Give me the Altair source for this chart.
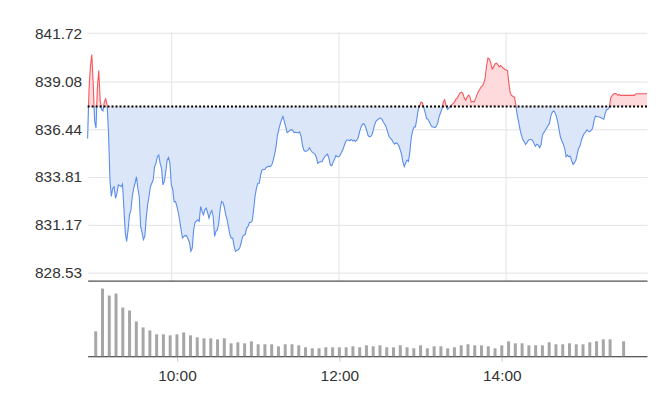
import altair as alt
import pandas as pd

# one reading per minute, starting 09:00
prices = [
    835.92, 838.60, 839.90, 840.55, 838.93, 836.90, 836.50, 838.75, 839.66, 838.02,
    837.51, 837.44, 837.95, 838.10, 837.75, 836.20, 833.64, 832.73, 833.18, 833.27,
    832.63, 832.91, 833.37, 833.33, 833.27, 833.42, 832.09, 830.71, 830.26, 830.90,
    831.72, 831.96, 832.73, 833.18, 833.46, 833.82, 833.18, 832.73, 831.08, 830.75,
    830.35, 830.53, 831.54, 832.27, 832.73, 833.27, 833.46, 833.64, 834.37, 834.55,
    834.92, 835.01, 834.55, 834.28, 833.37, 833.55, 834.09, 834.73, 834.88, 834.55,
    833.37, 833.13, 832.45, 832.45, 832.18, 831.85, 831.41, 830.90, 830.44, 830.53,
    830.59, 830.57, 830.39, 830.20, 829.71, 829.89, 830.90, 831.30, 831.37, 831.45,
    831.37, 832.18, 831.90, 831.72, 831.99, 832.09, 831.85, 831.54, 831.81, 831.96,
    831.63, 830.53, 830.81, 830.90, 831.26, 832.03, 832.45, 832.41, 832.14, 831.72,
    831.45, 831.04, 830.62, 830.44, 830.44, 829.98, 829.71, 829.77, 829.80, 829.89,
    830.17, 830.50, 830.61, 830.64, 830.99, 831.08, 831.30, 831.30, 831.39, 831.99,
    832.73, 833.18, 833.46, 833.46, 833.91, 834.19, 834.22, 834.22, 834.33, 834.37,
    834.40, 834.37, 834.46, 834.70, 835.03, 835.43, 836.05, 836.41, 836.70, 836.96,
    837.14, 836.87, 836.56, 836.25, 836.29, 836.38, 836.41, 836.38, 836.25, 836.27,
    836.25, 836.23, 836.29, 836.05, 835.56, 835.28, 835.21, 835.23, 835.28, 835.41,
    835.28, 835.17, 835.12, 835.06, 834.88, 834.55, 834.62, 834.64, 834.64, 834.80,
    834.92, 835.01, 835.06, 834.82, 834.46, 834.42, 834.61, 834.79, 834.99, 834.92,
    834.92, 835.01, 835.15, 835.32, 835.54, 835.76, 835.85, 835.83, 835.81, 835.87,
    835.79, 835.83, 835.76, 835.83, 835.98, 836.30, 836.56, 836.71, 836.74, 836.60,
    836.38, 836.09, 836.01, 836.05, 836.16, 836.45, 836.74, 836.91, 836.96, 837.02,
    837.05, 836.98, 836.82, 836.71, 836.56, 836.30, 836.05, 835.94, 835.87, 835.72,
    835.61, 835.68, 835.65, 835.54, 835.32, 835.06, 834.64, 834.37, 834.59, 834.73,
    834.66, 835.19, 835.98, 836.34, 836.56, 836.56, 837.02, 837.51, 837.73, 837.93,
    837.88, 837.62, 837.33, 837.02, 836.98, 836.83, 836.67, 836.56, 836.56, 836.52,
    836.60, 836.78, 837.14, 837.33, 837.55, 837.93, 838.06, 837.69, 837.53, 837.60,
    837.69, 837.78, 837.86, 837.93, 838.09, 838.15, 838.31, 838.44, 838.48, 838.40,
    838.15, 838.04, 838.20, 838.31, 838.24, 837.93, 837.97, 837.93, 838.09, 838.31,
    838.50, 838.62, 838.75, 838.82, 838.97, 839.26, 839.94, 840.36, 840.30, 840.07,
    839.74, 839.85, 840.03, 840.07, 840.01, 839.87, 839.94, 839.88, 839.79, 839.74,
    839.70, 839.66, 838.93, 838.42, 838.29, 838.24, 838.20, 837.75, 837.20, 836.83,
    836.41, 836.10, 835.85, 835.74, 835.59, 835.70, 835.83, 835.87, 835.87, 835.81,
    835.65, 835.50, 835.61, 835.56, 835.41, 835.56, 836.10, 836.25, 836.36, 836.49,
    836.63, 836.74, 837.14, 837.36, 837.45, 837.36, 837.14, 836.83, 836.38, 835.98,
    835.79, 835.61, 835.37, 834.92, 835.01, 834.92, 834.95, 834.70, 834.50, 834.59,
    834.73, 835.06, 835.39, 835.52, 835.83, 836.05, 836.20, 836.29, 836.40, 836.32,
    836.30, 836.38, 836.49, 836.89, 837.16, 837.12, 837.12, 837.11, 837.07, 837.02,
    836.98, 837.29, 837.51, 837.53, 837.66, 838.17, 838.28, 838.37, 838.40, 838.39,
    838.30, 838.35, 838.30, 838.30, 838.30, 838.30, 838.30, 838.30, 838.30, 838.30,
    838.30, 838.30, 838.30, 838.39, 838.39, 838.39, 838.39, 838.39, 838.39, 838.39,
    838.39, 838.39,
]
base_price = 837.68
price_ticks = [828.53, 831.17, 833.81, 836.44, 839.08, 841.72]
time_tick_labels = ["10:00", "12:00", "14:00"]

# volume per 5-minute slot from 09:00 to 15:30 (None = no trading in that slot)
volumes = [
    25, 68, 61, 63, 49, 46, 35, 29, 26, 22,
    22, 21, 22, 24, 21, 19, 18, 18, 17, 18,
    13, 14, 13, 15, 12, 12, 12, 10, 12, 12,
    11, 9, 8, 8, 9, 9, 9, 9, 10, 9,
    11, 10, 11, 9, 9, 11, 9, 8, 11, 8,
    10, 10, 8, 9, 11, 12, 11, 11, 10, 8,
    11, 15, 13, 13, 11, 11, 11, 14, 12, 12,
    13, 12, 12, 14, 15, 17, 17, None, 15,
]


def to_minutes(hhmm):
    h, m = hhmm.split(":")
    return int(h) * 60 + int(m) - 9 * 60


price_df = pd.DataFrame({
    "minute": list(range(len(prices))),
    "price": prices,
    "base": [base_price] * len(prices),
})
vol_df = pd.DataFrame({
    "minute": [5 * i for i in range(len(volumes))],
    "volume": volumes,
}).dropna()
base_df = pd.DataFrame({"base": [base_price]})
tick_values = [to_minutes(t) for t in time_tick_labels]

RED, RED_FILL = "#f5585c", "#ffdadd"
BLUE, BLUE_FILL = "#5a8dec", "#dbe7f8"
GRID = "#e3e3e3"

pmin, pmax = min(prices), max(prices)
split = (pmax - base_price) / (pmax - pmin)


def split_gradient(up, down):
    return alt.Gradient(
        gradient="linear", x1=0, y1=0, x2=0, y2=1,
        stops=[
            alt.GradientStop(color=up, offset=0),
            alt.GradientStop(color=up, offset=split),
            alt.GradientStop(color=down, offset=split),
            alt.GradientStop(color=down, offset=1),
        ],
    )


x_top = alt.X(
    "minute:Q",
    scale=alt.Scale(domain=[0, 401], nice=False, zero=False),
    axis=alt.Axis(values=tick_values, labels=False, ticks=False, domain=True,
                  domainColor="#222", domainWidth=1, grid=True, gridColor=GRID,
                  title=None),
)
y_price = alt.Y(
    "price:Q",
    scale=alt.Scale(domain=[828.10, 841.80], nice=False, zero=False),
    axis=alt.Axis(values=price_ticks, format=".2f", ticks=False, domain=False,
                  grid=True, gridColor=GRID, labelPadding=6, minExtent=80,
                  maxExtent=80, title=None),
)

area = alt.Chart(price_df).mark_area(
    fill=split_gradient(RED_FILL, BLUE_FILL), opacity=1
).encode(x=x_top, y=y_price, y2="base:Q")

line = alt.Chart(price_df).mark_line(
    stroke=split_gradient(RED, BLUE), strokeWidth=1.1
).encode(x="minute:Q", y="price:Q")

rule = alt.Chart(base_df).mark_rule(
    color="black", strokeDash=[2, 2], strokeWidth=2
).encode(y="base:Q")

top = alt.layer(area, line, rule).properties(width=562, height=250)

label_expr = ("(floor(datum.value / 60) + 9) + ':' + "
              "(datum.value % 60 < 10 ? '0' : '') + (datum.value % 60)")

vol = alt.Chart(vol_df).mark_bar(size=3, color="#a6a6a6").encode(
    x=alt.X(
        "minute:Q",
        scale=alt.Scale(domain=[-2.3, 403.6], nice=False, zero=False),
        axis=alt.Axis(values=tick_values, labelExpr=label_expr, grid=False,
                      ticks=True, tickColor="#cccccc", tickSize=5,
                      domainColor="#222", domainWidth=1, labelPadding=7,
                      title=None),
    ),
    y=alt.Y(
        "volume:Q",
        scale=alt.Scale(domain=[0, 75], nice=False),
        axis=alt.Axis(labels=False, ticks=False, domain=False, grid=False,
                      title=None, minExtent=80, maxExtent=80),
    ),
).properties(width=562, height=75)

chart = (
    alt.vconcat(top, vol, spacing=0)
    .resolve_scale(x="independent")
    .properties(padding={"left": 0, "top": 17, "right": 0, "bottom": 0})
    .configure_view(stroke=None)
    .configure_axis(labelFont="Liberation Sans", labelFontSize=15.5,
                    labelColor="#333333")
)

chart.save("out.html", embed_options={"renderer": "svg", "actions": False})
